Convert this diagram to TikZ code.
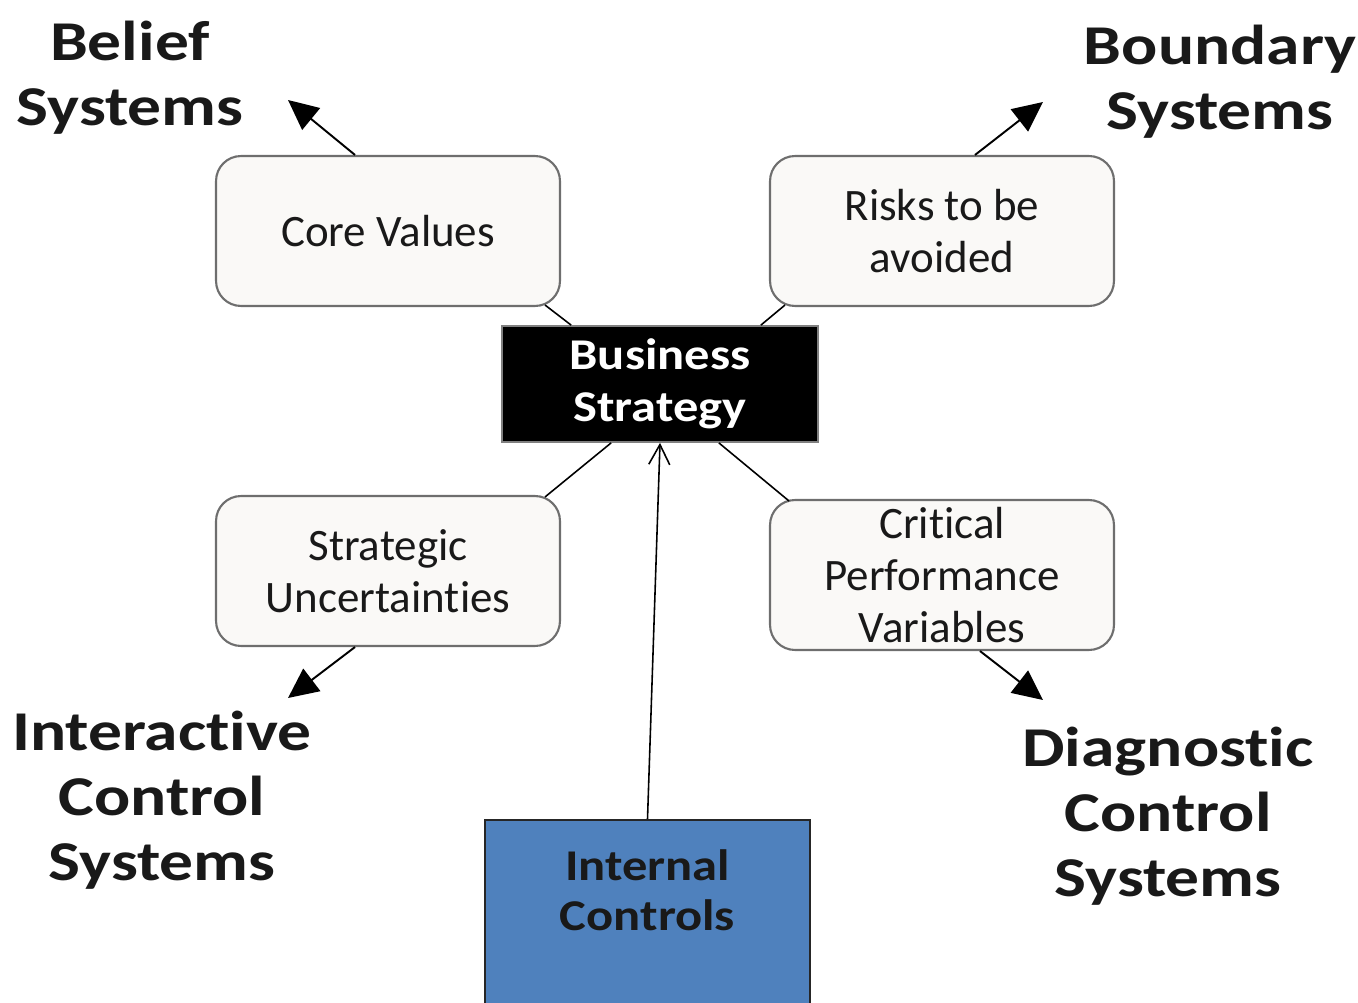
\documentclass[tikz,border=0pt]{standalone}
\usepackage{fontspec}
\setmainfont[Ligatures=NoCommon]{Carlito}
\newfontfamily\systemfont[FakeStretch=1.2, Ligatures=NoCommon]{Carlito}
\newfontfamily\corefont[FakeStretch=1.15, Ligatures=NoCommon]{Carlito}
\usetikzlibrary{arrows.meta,calc}
\definecolor{boxfill}{HTML}{FAF9F7}
\definecolor{boxline}{HTML}{6E6E6E}
\definecolor{icblue}{HTML}{4F81BD}
\begin{document}
\begin{tikzpicture}[x=0.02cm, y=-0.02cm,
		lever/.style={draw=boxline, fill=boxfill, line width=1.2pt, rounded corners=0.5cm,
			minimum width=6.88cm, minimum height=3cm, inner sep=0pt, align=center,
			font=\fontsize{25.6}{29.5}\selectfont, text=black!90},
		system/.style={align=center, font=\systemfont\fontsize{32}{36.9}\selectfont\bfseries, text=black!90},
		link/.style={line width=0.9pt},
		push/.style={line width=1.1pt, -{Triangle[length=0.6cm, width=0.56cm]}}]
	\useasboundingbox (0,0) rectangle (1358,1003);
	% the four levers
	\node (cv) at (388,231)[lever]{Core Values};
	\node (risk) at (942,231)[lever]{Risks to be\\avoided};
	\node (su) at (388,571)[lever]{Strategic\\Uncertainties};
	\node (cpv) at (942,575)[lever]{Critical\\Performance\\Variables};
	% strategy in the middle
	\node (bs) at (660,384)[draw=black!50, fill=black, line width=1pt, minimum width=6.32cm,
		minimum height=2.32cm, inner sep=0pt, align=center, text=white,
		font=\corefont\fontsize{25}{29.5}\selectfont\bfseries]{Business\\Strategy};
	\node (ic) at (647.5,819)[anchor=north, draw=black!85, fill=icblue, line width=1.3pt,
		minimum width=6.5cm, inner xsep=0pt, inner ysep=0.6cm, text depth=3cm, align=center,
		text=black!90, font=\corefont\fontsize{25}{28.4}\selectfont\bfseries]{Internal\\Controls};
	% the four systems
	\node (belief) at (130,78)[system]{Belief\\Systems};
	\node (boundary) at (1220,82)[system]{Boundary\\Systems};
	\node (interactive) at (162,800)[system]{Interactive\\Control\\Systems};
	\node (diagnostic) at (1168,816)[system]{Diagnostic\\Control\\Systems};
	\coordinate (tobelief) at (288,100);
	\coordinate (toboundary) at (1043,102);
	\coordinate (tointeractive) at (288,698);
	\coordinate (todiagnostic) at (1043,700);
	% links to the strategy box
	\draw[link] ($(cv.south east)+(-16,-2)$) -- ($(bs.north west)+(70,0)$);
	\draw[link] ($(risk.south west)+(16,-2)$) -- ($(bs.north east)+(-58,0)$);
	\draw[link] ($(su.north east)+(-16,2)$) -- ($(bs.south west)+(110,0)$);
	\draw[link] ($(cpv.north west)+(20,2)$) -- ($(bs.south east)+(-100,0)$);
	\draw[link, -{Straight Barb[length=0.4cm, width=0.42cm]}] (ic.north) -- (bs.south);
	% arrows out to the systems
	\draw[push] ($(cv.north)+(-33,0)$) -- (tobelief);
	\draw[push] ($(risk.north)+(33,0)$) -- (toboundary);
	\draw[push] ($(su.south)+(-33,0)$) -- (tointeractive);
	\draw[push] ($(cpv.south)+(38,0)$) -- (todiagnostic);
\end{tikzpicture}
\end{document}
